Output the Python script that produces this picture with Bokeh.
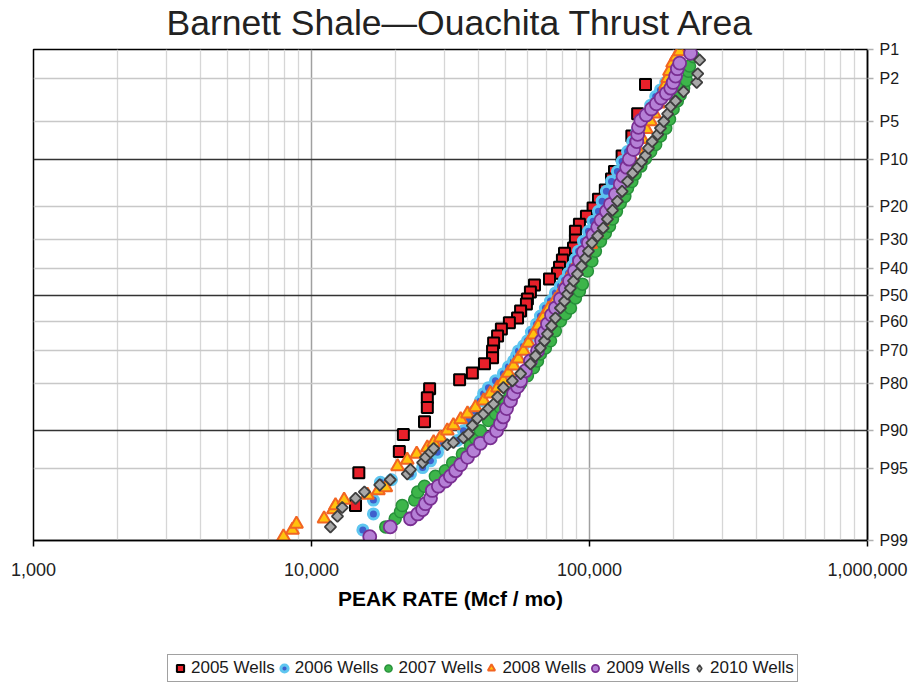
import math
from statistics import NormalDist
from bokeh.plotting import figure
from bokeh.layouts import column
from bokeh.models import (FixedTicker, Grid, Legend, LegendItem, Title,
                          NumeralTickFormatter, Range1d)
from bokeh.embed import file_html
from bokeh.resources import INLINE

FONT = "Liberation Sans"

title_text = "Barnett Shale\u2014Ouachita Thrust Area"
x_label = "PEAK RATE (Mcf / mo)"
x_ticks = [1000, 10000, 100000, 1000000]
p_ticks = [1, 2, 5, 10, 20, 30, 40, 50, 60, 70, 80, 90, 95, 99]
p_labels = ["P%d" % v for v in p_ticks]
p_light = [2, 5, 20, 30, 40, 60, 70, 80, 95]
p_dark = [10, 50, 90]

# ---- data: peak rate (Mcf/mo) and exceedance percentile (P) ----
rate_2005 = [159000, 149000, 142000, 131000, 123000, 120000, 114000, 107700, 103000, 97500,
             92000, 89000, 89000, 87600, 81300, 79900, 78000, 76700, 71800, 63400,
             61300, 59800, 59300, 56500, 55100, 51500, 48200, 46700, 45200, 44800,
             44800, 41900, 37900, 34100, 26600, 26100, 26100, 25500, 21400, 20700,
             14800, 14400]
pct_2005 = [2.3, 4.3, 6.6, 9.4, 12.1, 13.6, 16.0, 18.2, 20.5, 22.8,
            25.1, 27.3, 30.1, 32.8, 34.6, 37.0, 39.6, 41.8, 44.0, 46.2,
            48.9, 51.5, 53.4, 56.0, 58.6, 60.4, 62.6, 65.1, 67.5, 70.2,
            72.4, 74.3, 77.0, 78.9, 81.3, 83.5, 85.7, 88.5, 90.7, 93.1,
            95.4, 97.7]

rate_2006 = [15300, 16700, 16700, 17700, 19400, 22700, 25100, 26800, 28400, 29800,
             33500, 35200, 36700, 38600, 40500, 41600, 43300, 45900, 49000, 51100,
             53300, 54600, 55500, 57900, 59800, 61800, 64500, 66600, 69400, 72400,
             75400, 78600, 81300, 84000, 86800, 89000, 91300, 95100, 99100, 103000,
             107700, 111000, 115000, 120000, 126000, 131000, 137000, 143000, 148000, 154000,
             159000, 166000, 173000, 180000, 188000, 199000]
pct_2006 = [98.7, 98.1, 97.4, 96.2, 96.0, 95.5, 94.9, 94.2, 93.2, 92.0,
            91.6, 90.1, 88.3, 86.4, 84.2, 82.5, 81.0, 79.2, 77.2, 75.2,
            73.4, 71.8, 70.2, 68.5, 66.8, 63.7, 60.8, 57.9, 54.9, 52.3,
            49.2, 46.6, 44.4, 41.8, 39.2, 36.7, 33.9, 30.5, 27.3, 24.2,
            21.4, 18.7, 16.3, 14.1, 12.1, 10.3, 8.7, 7.3, 6.1, 5.2,
            4.4, 3.6, 3.0, 2.6, 2.2, 1.6]

rate_2007 = [18500, 20000, 20900, 21200, 23500, 24100, 25500, 27900, 30300, 32200,
             34900, 37300, 38900, 40500, 43300, 45900, 47800, 49900, 52000, 54200,
             56500, 59800, 62900, 65000, 66600, 69400, 72400, 75400, 78600, 81900,
             85400, 89000, 92000, 94300, 98300, 102000, 105000, 109500, 114000, 118000,
             121000, 125000, 129000, 134000, 137000, 142000, 146000, 153000, 159000, 166000,
             173000, 180000, 188000, 194000, 200000, 207000, 212000, 218000, 223000, 227000,
             229000, 237000]
pct_2007 = [98.6, 98.3, 98.0, 97.7, 97.4, 96.9, 96.5, 95.7, 95.2, 94.4,
            93.4, 92.3, 91.3, 90.1, 88.3, 87.0, 85.7, 84.2, 82.5, 81.3,
            80.0, 77.8, 75.5, 73.4, 71.2, 69.2, 66.8, 63.3, 59.7, 57.1,
            54.9, 51.1, 48.5, 45.9, 41.0, 37.4, 33.9, 30.5, 27.9, 25.7,
            23.6, 21.4, 19.2, 17.5, 15.6, 14.1, 12.6, 11.1, 9.8, 8.7,
            7.7, 6.6, 5.7, 4.8, 3.9, 3.3, 2.9, 2.5, 2.1, 1.7,
            1.5, 1.2]

rate_2008 = [7930, 8540, 8830, 11100, 12000, 12200, 13100, 15900, 17400, 18500,
             20400, 22100, 23900, 26100, 27500, 29100, 30800, 32400, 34400, 36400,
             38900, 41600, 44000, 46700, 49000, 51100, 53300, 55500, 57900, 60300,
             62900, 65500, 68300, 71200, 75400, 79300, 82600, 86800, 91300, 95900,
             101000, 106000, 111000, 117000, 122000, 127000, 132500, 138000, 143000, 149000,
             155000, 160000, 166000, 171000, 177000, 183000, 188000, 191000, 194000, 199000,
             205000, 211000]
pct_2008 = [98.9, 98.7, 98.5, 98.3, 97.9, 97.7, 97.4, 97.1, 96.8, 96.6,
            94.8, 94.1, 93.4, 92.6, 91.9, 91.2, 90.1, 89.2, 88.1, 87.0,
            85.7, 84.2, 82.5, 81.0, 79.2, 77.0, 74.9, 72.7, 70.2, 67.5,
            64.7, 61.5, 58.3, 55.3, 51.9, 48.5, 45.1, 41.0, 37.4, 33.9,
            31.5, 27.9, 24.2, 20.8, 18.0, 15.4, 13.6, 11.7, 9.9, 8.4,
            7.0, 5.8, 5.0, 4.3, 3.5, 2.8, 2.3, 2.0, 1.7, 1.4,
            1.2, 1.05]

rate_2009 = [16200, 19200, 22700, 24100, 25100, 25700, 26800, 27200, 28600, 30300,
             31600, 33000, 34400, 36400, 38300, 40500, 44000, 46300, 47800, 49000,
             50300, 52000, 53300, 55100, 56500, 58800, 61300, 65000, 67200, 68900,
             70600, 73000, 75400, 78600, 81900, 84700, 88300, 92000, 95100, 99100,
             103000, 107000, 110000, 115000, 119000, 124000, 129000, 132000, 136000, 139000,
             144000, 148000, 149000, 150000, 153000, 160000, 167000, 174000, 181000, 189000,
             196000, 200000, 204000, 207000, 211000, 231000]
pct_2009 = [98.9, 98.6, 98.3, 98.1, 97.9, 97.6, 97.3, 96.8, 96.5, 96.1,
            95.7, 95.2, 94.6, 93.8, 93.0, 92.0, 91.2, 90.1, 88.9, 87.6,
            85.9, 84.2, 82.5, 80.8, 79.2, 76.4, 73.4, 70.2, 66.8, 63.7,
            60.8, 57.5, 54.9, 51.5, 47.7, 44.7, 41.0, 37.4, 34.2, 31.1,
            28.5, 26.0, 23.9, 21.4, 19.5, 17.0, 14.7, 13.0, 11.3, 9.9,
            8.4, 7.3, 6.4, 5.6, 4.9, 4.4, 3.9, 3.5, 3.1, 2.8,
            2.5, 2.2, 1.9, 1.6, 1.4, 1.1]

rate_2010 = [11700, 12400, 12900, 14400, 15500, 17600, 19200, 22100, 22700, 25100,
             25700, 26800, 27500, 30800, 32400, 35200, 36700, 37900, 39500, 41600,
             43300, 45200, 46700, 49000, 52800, 56500, 61300, 63900, 66600, 68900,
             70600, 73000, 75400, 78600, 81300, 83300, 85400, 87600, 90500, 93600,
             96700, 99100, 102000, 107000, 112000, 116000, 121000, 126000, 131000, 137000,
             143000, 149000, 154000, 159000, 163000, 168000, 176000, 180000, 185000, 191000,
             196000, 204000, 218000, 243000, 245000, 249000]
pct_2010 = [98.6, 98.2, 97.8, 97.3, 96.9, 96.4, 96.0, 95.5, 95.1, 94.4,
            93.8, 93.2, 92.7, 92.2, 91.9, 91.2, 90.6, 89.2, 87.9, 87.0,
            85.9, 84.9, 83.3, 81.0, 79.2, 77.2, 74.3, 71.8, 69.2, 66.8,
            64.4, 61.5, 58.6, 54.9, 52.3, 49.6, 47.4, 44.7, 42.1, 39.2,
            36.3, 33.9, 31.1, 28.8, 26.3, 23.6, 21.1, 18.7, 16.3, 14.1,
            12.4, 11.3, 10.3, 9.3, 8.2, 7.3, 6.4, 5.7, 5.0, 4.3,
            3.7, 3.3, 2.7, 2.2, 1.8, 1.3]

# ---- probability (normal) scale for the P axis ----
_nd = NormalDist()


def zscore(pct):
    return round(_nd.inv_cdf(1.0 - pct / 100.0), 6)


p = figure(width=920, height=645, x_axis_type="log",
           x_range=Range1d(1000, 1000000),
           y_range=Range1d(zscore(99), zscore(1)),
           y_axis_location="right",
           output_backend="svg", toolbar_location=None,
           min_border_left=33, min_border_right=53,
           min_border_top=48, min_border_bottom=105)
p.background_fill_color = "white"
p.border_fill_color = "white"
p.outline_line_color = "black"
p.outline_line_width = 1.5

# spacer (closest to frame) then the real title above it
p.add_layout(Title(text=" ", text_font_size="4px", standoff=0), "above")
p.add_layout(Title(text=title_text, align="left", offset=133, text_font=FONT,
                   text_font_size="35.5px", text_font_style="normal",
                   text_color="#222222", standoff=0), "above")

# x axis
minor_x = [m * 10 ** e for e in range(3, 6) for m in range(2, 10)]
xt = FixedTicker(ticks=x_ticks, minor_ticks=minor_x)
p.xaxis.ticker = xt
p.xgrid.ticker = xt
p.xaxis.formatter = NumeralTickFormatter(format="0,0")
p.xaxis.major_label_text_font = FONT
p.xaxis.major_label_text_font_size = "18px"
p.xaxis.major_label_text_color = "#222222"
p.xaxis.major_label_standoff = 16
p.xaxis.major_tick_in = 0
p.xaxis.major_tick_out = 6
p.xaxis.major_tick_line_color = "black"
p.xaxis.major_tick_line_width = 1.5
p.xaxis.minor_tick_line_color = None
p.xaxis.axis_line_color = "black"
p.xaxis.axis_line_width = 1.5
p.xaxis.axis_label = x_label
p.xaxis.axis_label_text_font = FONT
p.xaxis.axis_label_text_font_size = "21px"
p.xaxis.axis_label_text_font_style = "bold"
p.xaxis.axis_label_text_color = "black"
p.xaxis.axis_label_standoff = 8

p.xgrid.grid_line_color = "#a0a0a0"
p.xgrid.grid_line_width = 1.5
p.xgrid.minor_grid_line_color = "#d6d6d6"
p.xgrid.minor_grid_line_width = 1.3

# right P axis
yax = p.yaxis[0]
yt_vals = [zscore(v) for v in p_ticks]
yax.ticker = FixedTicker(ticks=yt_vals)
yax.major_label_overrides = {zv: lab for zv, lab in zip(yt_vals, p_labels)}
yax.major_label_text_font = FONT
yax.major_label_text_font_size = "16px"
yax.major_label_text_color = "#1a1a1a"
yax.major_label_standoff = 6
yax.major_tick_in = 0
yax.major_tick_out = 6
yax.major_tick_line_color = "#b0b0b0"
yax.major_tick_line_width = 1.5
yax.minor_tick_line_color = None
yax.axis_line_color = "black"
yax.axis_line_width = 1.5

p.ygrid.ticker = FixedTicker(ticks=[zscore(v) for v in p_light])
p.ygrid.grid_line_color = "#c8c8c8"
p.ygrid.grid_line_width = 1.5
dark_grid = Grid(dimension=1, ticker=FixedTicker(ticks=[zscore(v) for v in p_dark]),
                 grid_line_color="#333333", grid_line_width=1.5)
p.add_layout(dark_grid)

# ---- series ----
styles = [
    ("2005 Wells", rate_2005, pct_2005, dict(marker="square", size=11, fill_color="#e8202a",
                                             line_color="black", line_width=2)),
    ("2006 Wells", rate_2006, pct_2006, dict(marker="circle", size=10, fill_color="#3f5fcc",
                                             line_color="#5ec6f0", line_width=3)),
    ("2007 Wells", rate_2007, pct_2007, dict(marker="circle", size=12, fill_color="#3db54a",
                                             line_color="#27913a", line_width=1.5)),
    ("2008 Wells", rate_2008, pct_2008, dict(marker="triangle", size=13, fill_color="#ffc20e",
                                             line_color="#f26522", line_width=2)),
    ("2009 Wells", rate_2009, pct_2009, dict(marker="circle", size=13, fill_color="#b580d6",
                                             line_color="#7a2f93", line_width=1.8)),
    ("2010 Wells", rate_2010, pct_2010, dict(marker="square", size=8, angle=math.pi / 4,
                                             fill_color="#a8a8a8", line_color="#3f3f3f",
                                             line_width=1.8)),
]

for name, rates, pcts, st in styles:
    p.scatter(x=rates, y=[zscore(v) for v in pcts], **st)

# ---- legend strip below the chart (same series, plotted outside its view) ----
lf = figure(width=920, height=38, x_range=Range1d(0, 1), y_range=Range1d(0, 1),
            x_axis_location=None, y_axis_location=None,
            output_backend="svg", toolbar_location=None, min_border=0)
lf.outline_line_color = None
lf.xgrid.visible = False
lf.ygrid.visible = False
lf.background_fill_color = "white"
lf.border_fill_color = "white"

items = []
for name, rates, pcts, st in styles:
    lst = dict(st)
    if "angle" in lst:
        lst.pop("angle")
        lst["marker"] = "diamond"
        lst["line_width"] = 1.5
    r = lf.scatter(x=rates, y=[zscore(v) for v in pcts], **lst)
    items.append(LegendItem(label=name, renderers=[r]))

legend = Legend(items=items, orientation="horizontal", location=(134, 1),
                label_text_font=FONT, label_text_font_size="17px",
                label_text_color="#1a1a1a", glyph_width=18, glyph_height=20,
                label_standoff=2, spacing=0, padding=3, margin=0,
                label_height=20, border_line_color="#444444", border_line_width=1,
                background_fill_color="white", background_fill_alpha=1.0)
lf.add_layout(legend)

layout = column(p, lf, spacing=0)
open("out.html", "w").write(file_html(layout, INLINE))
